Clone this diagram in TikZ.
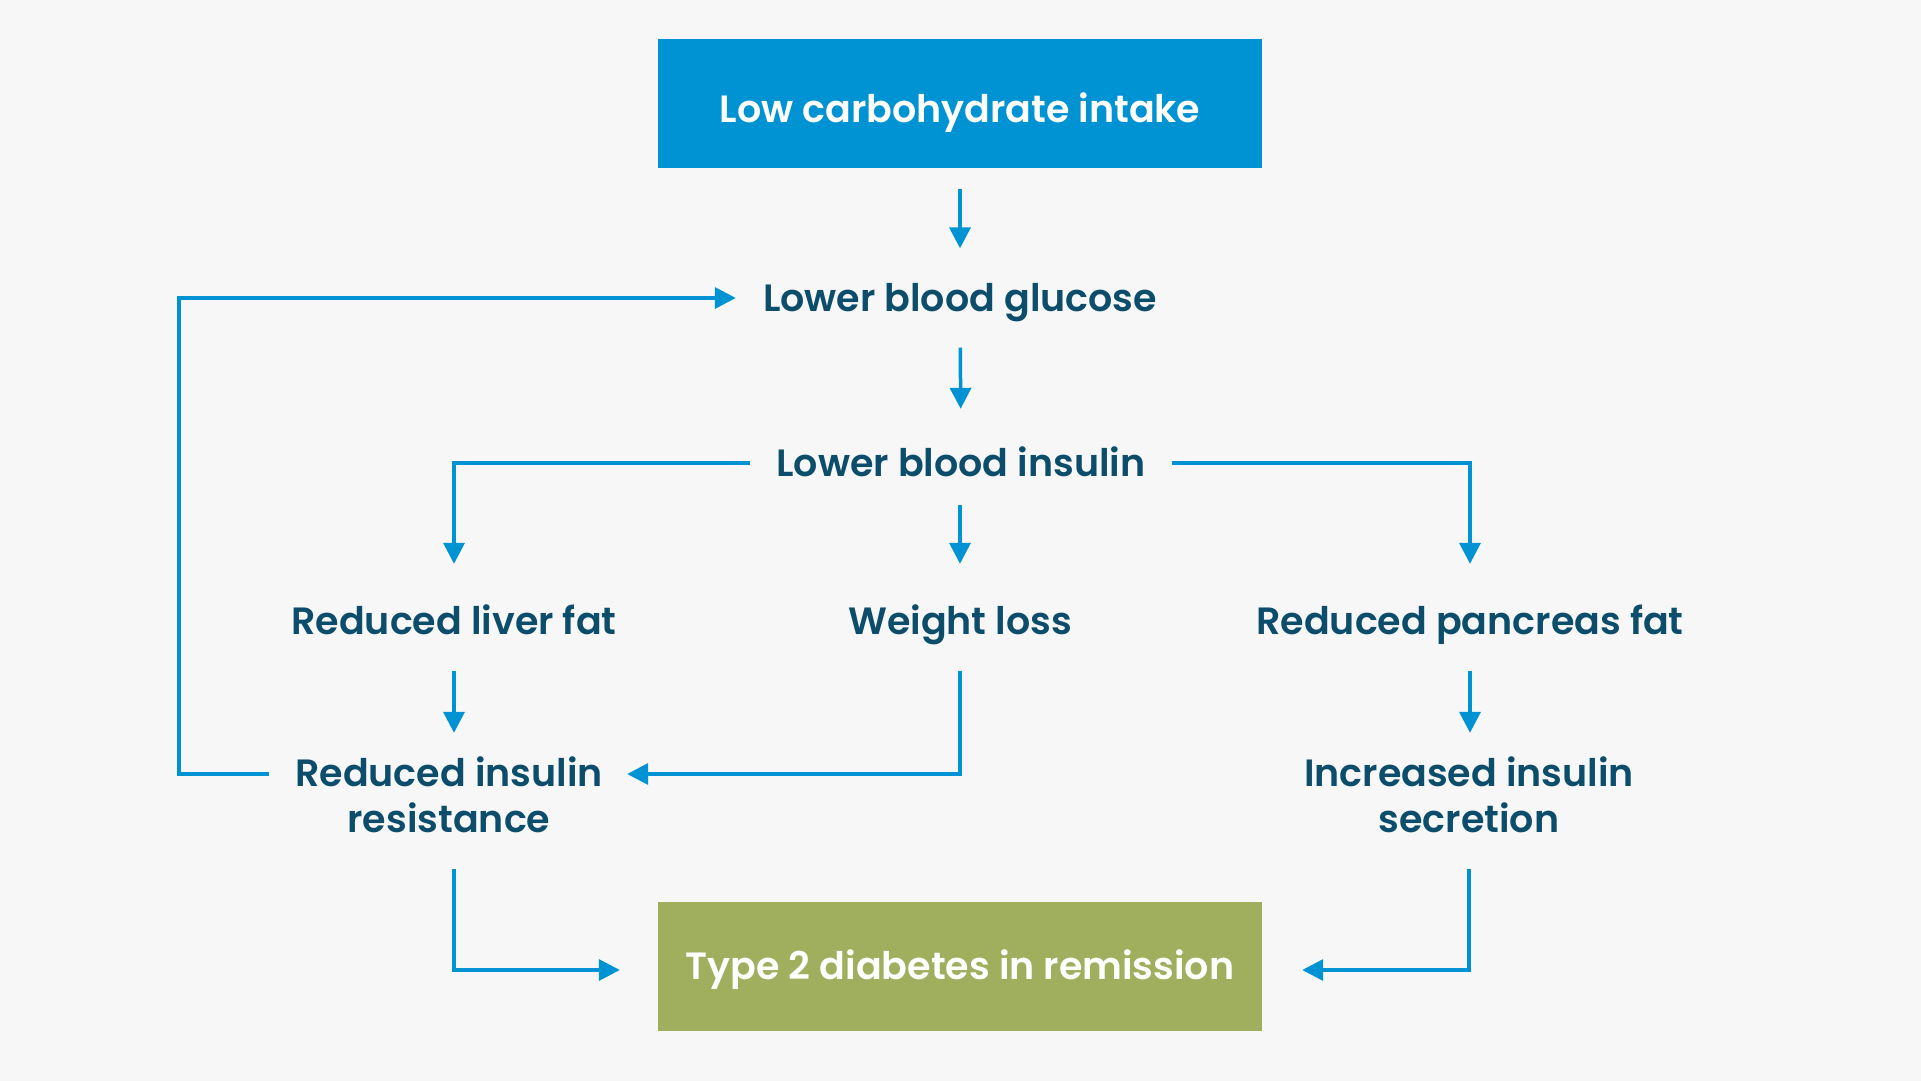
\documentclass[tikz,border=0pt]{standalone}
\usepackage{fontspec}
\setmainfont{Poppins}[BoldFont={Poppins SemiBold}]
\usetikzlibrary{arrows.meta, positioning, calc}
\definecolor{cblue}{HTML}{0093D3}
\definecolor{cgreen}{HTML}{A0AF5E}
\definecolor{cdark}{HTML}{0C4D6B}
\definecolor{cbg}{HTML}{F7F7F7}

\begin{document}
\begin{tikzpicture}[
  x=1pt, y=-1pt,
  font=\fontsize{38}{46}\selectfont\bfseries,
  box/.style={minimum width=604pt, minimum height=129pt, inner sep=0pt, text=white},
  lbl/.style={inner sep=0pt, text=cdark, text height=32.3pt, text depth=5.7pt},
  lbl2/.style={inner sep=0pt, text=cdark, align=center},
  arr/.style={draw=cblue, line width=3.5pt, -{Triangle[width=21pt, length=21pt]}},
  ]
\useasboundingbox (0,0) rectangle (1921,1081);
\fill[cbg] (0,0) rectangle (1921,1081);

% boxes
\node[box, fill=cblue, text height=37.6pt, text depth=0pt] (carb) at (960,103.5) {Low carbohydrate intake};
\node[box, fill=cgreen, text height=32.3pt, text depth=5.7pt] (t2d) at (960,966) {Type 2 diabetes in remission};

% text nodes
\node[lbl, minimum width=448pt, minimum height=99pt] (gluc) at (960,298) {Lower blood glucose};
\node[lbl, minimum width=421pt, minimum height=84pt] (ins) at (961,463) {Lower blood insulin};
\node[lbl, minimum width=330pt, minimum height=107pt, text height=35.8pt, text depth=2.2pt] (liver) at (454,617.5) {Reduced liver fat};
\node[lbl, minimum width=300pt, minimum height=107pt, text height=35.8pt, text depth=2.2pt] (wl) at (960,617.5) {Weight loss};
\node[lbl, minimum width=460pt, minimum height=107pt, text height=35.8pt, text depth=2.2pt] (panc) at (1470,617.5) {Reduced pancreas fat};
\node[lbl2, minimum width=360pt, minimum height=148pt] (res) at (449,795) {Reduced insulin\\resistance};
\node[lbl2, minimum width=360pt, minimum height=148pt] (secr) at (1469,795) {Increased insulin\\secretion};
\coordinate (fb) at (179,298);

% connectors
\draw[arr, shorten <=21pt] (carb) -- (gluc);
\draw[arr, shorten >=12pt] (gluc) -- (ins);
\draw[arr] (ins.west) -| (liver.north);
\draw[arr] (ins.south -| wl.north) -- (wl.north);
\draw[arr] (ins.east) -| (panc.north);
\draw[arr, shorten >=-12pt] (liver.south) -- (liver.south |- res.north);
\draw[arr, shorten >=-12pt] (panc.south) -- (panc.south |- secr.north);
\draw[arr, shorten >=-2pt] (wl.south) |- ([yshift=21pt]res.east);
\draw[arr] ([yshift=21pt]res.west) -| (fb) -- (fb -| gluc.west);
\draw[arr, shorten >=38pt] (res.south -| liver.south) |- ([yshift=-4pt]t2d.west);
\draw[arr, shorten >=40pt] (secr.south) |- ([yshift=-4pt]t2d.east);
\end{tikzpicture}
\end{document}
